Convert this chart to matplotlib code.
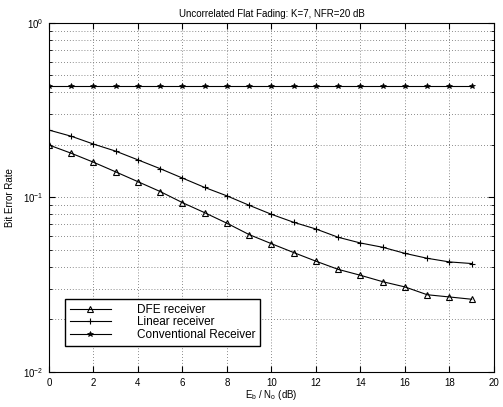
import numpy as np
import matplotlib
matplotlib.use("Agg")
import matplotlib.pyplot as plt

plt.rcParams['font.family'] = ['Liberation Sans', 'DejaVu Sans']

# Eb/No axis (dB)
ebno = list(range(20))

# Bit error rates
ber_dfe = [0.1995, 0.179, 0.159, 0.140, 0.123, 0.108, 0.0933, 0.0817, 0.0711, 0.0612,
           0.0543, 0.0483, 0.0431, 0.0387, 0.0358, 0.0329, 0.0307, 0.0277, 0.0269, 0.0261]
ber_linear = [0.243, 0.224, 0.202, 0.184, 0.164, 0.146, 0.129, 0.114, 0.102, 0.0901,
              0.080, 0.072, 0.0659, 0.0591, 0.0548, 0.0518, 0.0478, 0.0448, 0.0427, 0.0418]
ber_conv = [0.436] * 20

labels = ['DFE receiver', 'Linear receiver', 'Conventional Receiver']

fig = plt.figure(figsize=(5.03, 4.07), dpi=100)
ax = fig.add_axes([0.0974, 0.086, 0.8846, 0.858])

ax.semilogy(ebno, ber_dfe, color='black', lw=0.8, marker='^', markersize=5,
            markerfacecolor='none', markeredgewidth=0.8, label=labels[0])
ax.semilogy(ebno, ber_linear, color='black', lw=0.8, marker='+', markersize=5,
            markeredgewidth=0.8, label=labels[1])
ax.semilogy(ebno, ber_conv, color='black', lw=0.8, marker='*', markersize=4,
            markeredgewidth=0.5, label=labels[2])

ax.set_xlim(0, 20)
ax.set_ylim(1e-2, 1)
ax.set_xticks(range(0, 21, 2))

# dotted grid, sparse dots like the original
grid_ls = (0, (1, 2.5))
ax.grid(True, which='major', linestyle=grid_ls, color='#666666', lw=0.6)
ax.grid(True, which='minor', axis='y', linestyle=grid_ls, color='#666666', lw=0.6)
ax.tick_params(which='both', direction='in', top=True, right=True, labelsize=7)
ax.tick_params(which='major', length=4, pad=4)
ax.tick_params(which='minor', length=2)
for s in ax.spines.values():
    s.set_linewidth(0.8)

ax.set_title('Uncorrelated Flat Fading: K=7, NFR=20 dB', fontsize=7, pad=4)
ax.set_xlabel(r'E$_\mathregular{b}$ / N$_\mathregular{o}$ (dB)', fontsize=7, labelpad=0)
ax.set_ylabel('Bit Error Rate', fontsize=7, labelpad=6)

leg = ax.legend(loc='lower left', bbox_to_anchor=(0.036, 0.075), fontsize=8.5,
                fancybox=False, framealpha=1, edgecolor='black', handlelength=3.5,
                handletextpad=2.2, borderpad=0.4, labelspacing=0.05, borderaxespad=0)
leg.get_frame().set_linewidth(1.0)

fig.savefig('out.png', dpi=100)
